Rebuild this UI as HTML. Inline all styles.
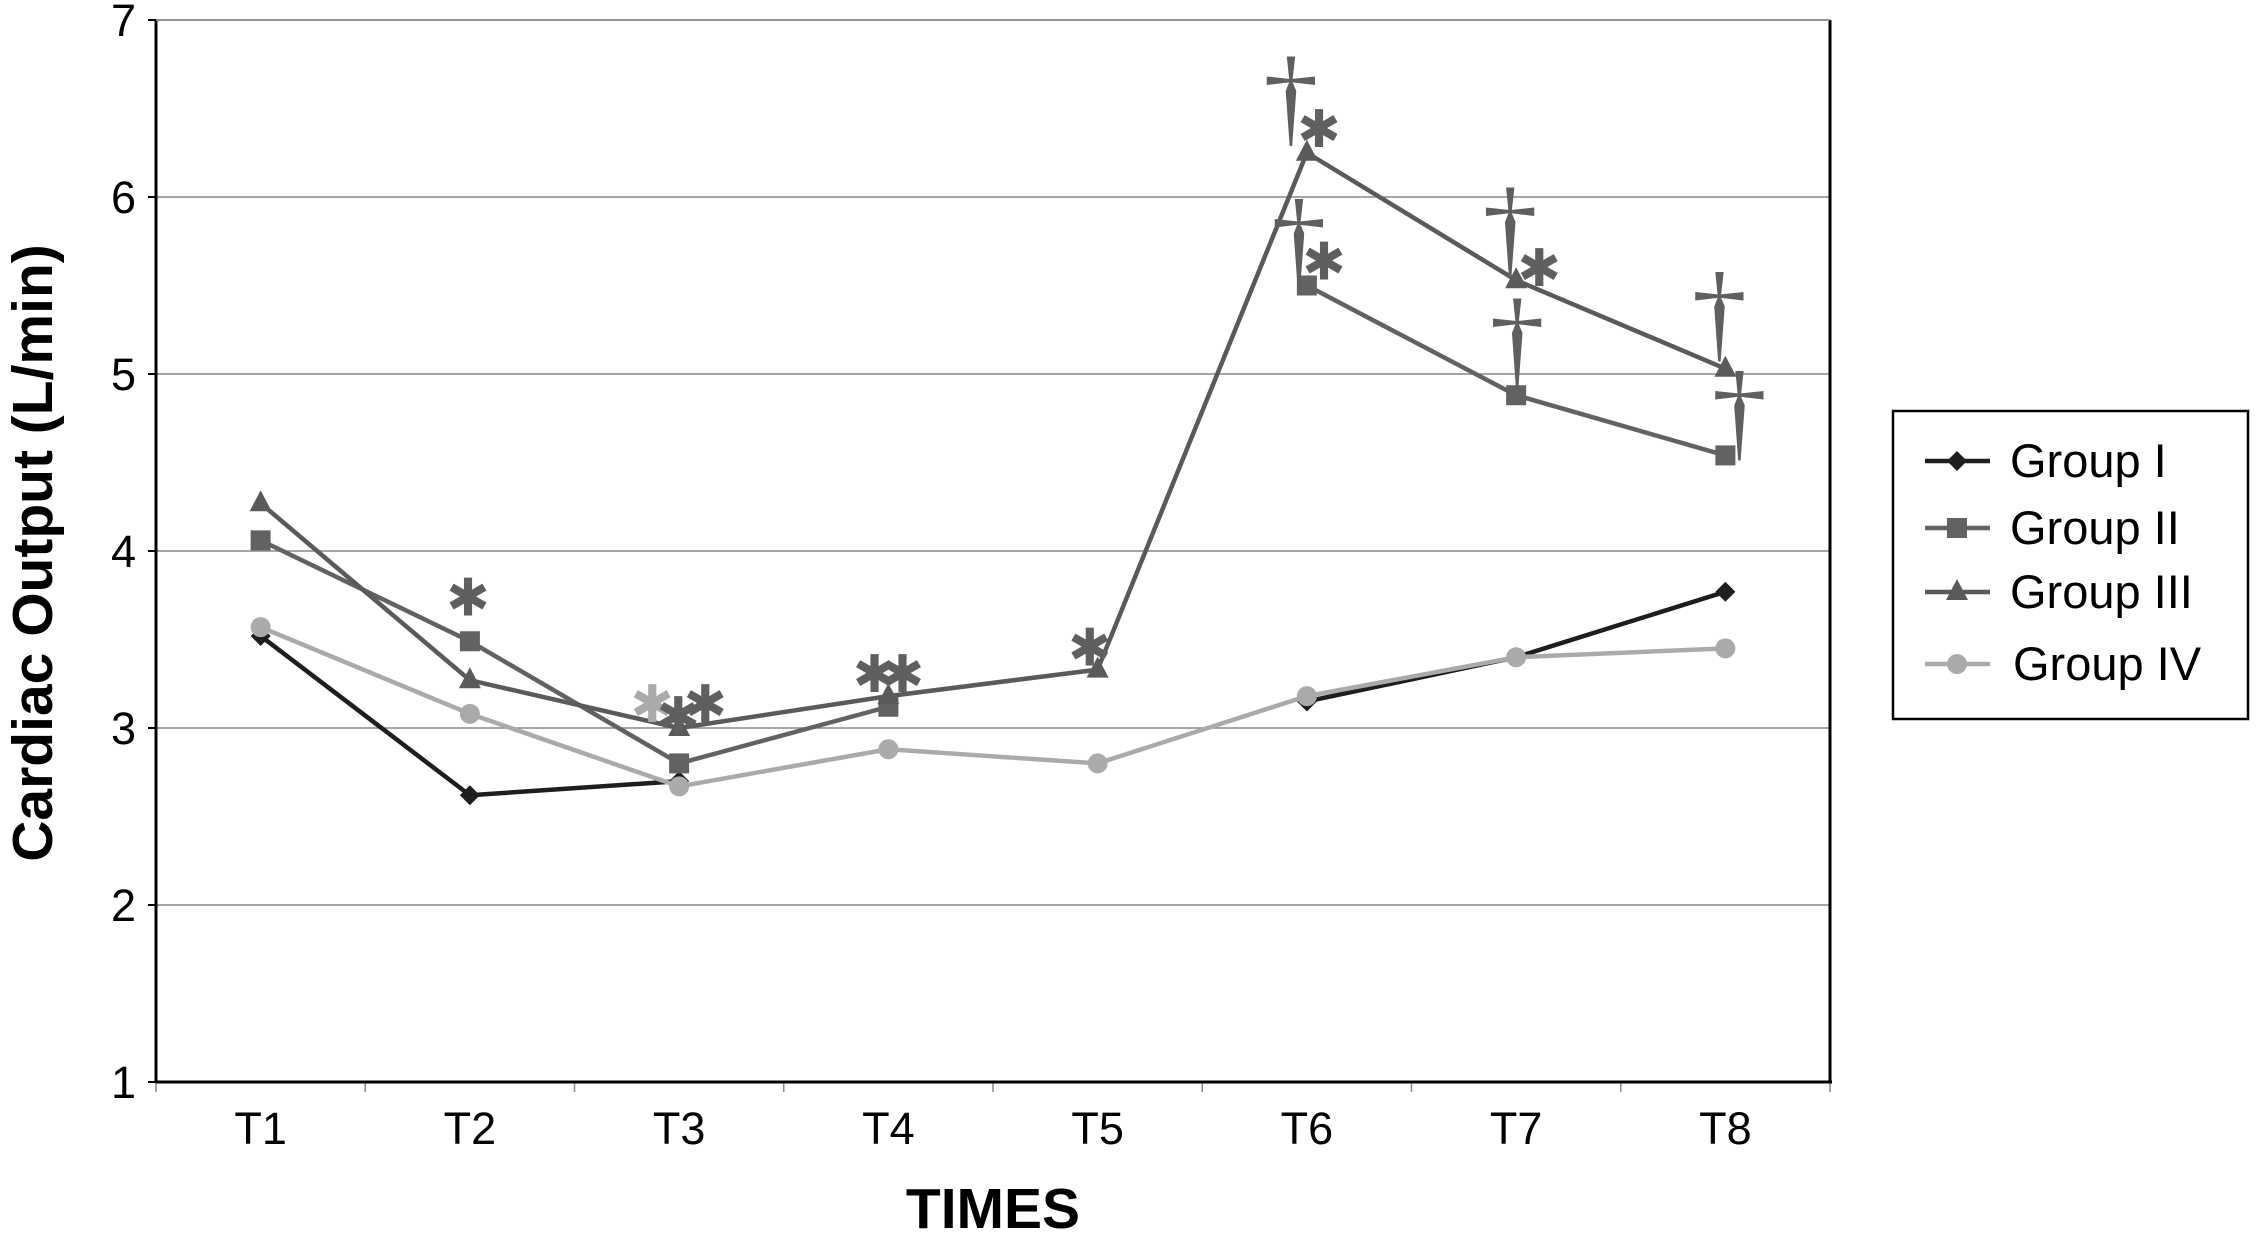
<!DOCTYPE html>
<html><head><meta charset="utf-8"><style>
html,body{margin:0;padding:0;background:#fff;}
svg{display:block;font-family:"Liberation Sans",Arial,sans-serif;}
</style></head><body>
<svg id="chart" width="2256" height="1237" viewBox="0 0 2256 1237" xmlns="http://www.w3.org/2000/svg">
<g id="grid"></g>
<g id="axes"></g>
<g id="series"></g>
<g id="annot"></g>
<text x="0" y="0" transform="translate(52,553) rotate(-90)" text-anchor="middle" font-weight="bold" font-size="57" fill="#000">Cardiac Output (L/min)</text>
<text x="993" y="1228" text-anchor="middle" font-weight="bold" font-size="57" fill="#000">TIMES</text>
<g id="legend"></g>
</svg>
<script>
const categories = ["T1","T2","T3","T4","T5","T6","T7","T8"];
const yTicks = [1,2,3,4,5,6,7];
const groupI   = [3.52,2.62,2.70,null,null,3.15,3.40,3.77];
const groupII  = [4.06,3.49,2.80,3.12,null,5.50,4.88,4.54];
const groupIII = [4.27,3.27,3.00,3.18,3.33,6.25,5.53,5.03];
const groupIV  = [3.57,3.08,2.67,2.88,2.80,3.18,3.40,3.45];
const seriesNames = ["Group I","Group II","Group III","Group IV"];

const NS="http://www.w3.org/2000/svg";
const L=156,R=1830,T=20,B=1082,yMin=1,yMax=7;
const bw=(R-L)/categories.length;
const x=i=>L+bw*(i+0.5);
const y=v=>B-(v-yMin)/(yMax-yMin)*(B-T);
function mk(tag,attrs,parent){const e=document.createElementNS(NS,tag);for(const k in attrs)e.setAttribute(k,attrs[k]);parent.appendChild(e);return e;}
const grid=document.getElementById('grid'),axes=document.getElementById('axes'),ser=document.getElementById('series'),ann=document.getElementById('annot'),leg=document.getElementById('legend');

yTicks.forEach(v=>{
  if(v>yMin){const g=mk('line',{x1:L,x2:R,y1:y(v),y2:y(v),stroke:'#888','stroke-width':1.5},grid);
  
  }
  mk('line',{x1:L-8,x2:L,y1:y(v),y2:y(v),stroke:'#000','stroke-width':2},axes);
  const lb=mk('text',{x:L-20,y:y(v)+16,'text-anchor':'end','font-size':45,fill:'#000'},axes);
  lb.textContent=v;
  
  
});
categories.forEach((c,i)=>{
  mk('line',{x1:L+bw*i,x2:L+bw*i,y1:B,y2:B+10,stroke:'#888','stroke-width':1.5},axes);
  const lb=mk('text',{x:x(i),y:B+62,'text-anchor':'middle','font-size':45,fill:'#000'},axes);
  lb.textContent=c;
  
  
});
mk('line',{x1:R,x2:R,y1:B,y2:B+10,stroke:'#888','stroke-width':1.5},axes);
mk('line',{x1:L,x2:L,y1:T,y2:B+1,stroke:'#000','stroke-width':3},axes);
mk('line',{x1:L,x2:R+2,y1:B,y2:B,stroke:'#000','stroke-width':3},axes);
mk('line',{x1:R,x2:R,y1:T,y2:B,stroke:'#000','stroke-width':3},axes);
mk('line',{x1:L,x2:R,y1:T,y2:T,stroke:'#888','stroke-width':1.5},axes);

function marker(kind,cx,cy,col,parent){
  if(kind==='diamond')return mk('polygon',{points:`${cx},${cy-10} ${cx+10},${cy} ${cx},${cy+10} ${cx-10},${cy}`,fill:col},parent);
  if(kind==='square')return mk('rect',{x:cx-10,y:cy-10,width:20,height:20,fill:col},parent);
  if(kind==='triangle')return mk('polygon',{points:`${cx},${cy-13} ${cx+11},${cy+8} ${cx-11},${cy+8}`,fill:col},parent);
  return mk('circle',{cx:cx,cy:cy,r:10,fill:col},parent);
}
const defs=[[groupI,'#1e1e1e','diamond'],[groupIV,'#aaaaaa','circle'],[groupII,'#626262','square'],[groupIII,'#5a5a5a','triangle']];
defs.forEach(([d,col,kind])=>{
  const g=mk('g',{},ser);
  
  
  for(let i=0;i<d.length-1;i++){
    if(d[i]==null||d[i+1]==null)continue;
    const s=mk('line',{x1:x(i),y1:y(d[i]),x2:x(i+1),y2:y(d[i+1]),stroke:col,'stroke-width':4.5,'stroke-linecap':'round'},g);
    
    
  }
  d.forEach((v,i)=>{if(v==null)return;const m=marker(kind,x(i),y(v),col,g);
    
    });
});

function sym(ch,px,py,col,size,font){
  const t=mk('text',{x:px,y:py,'text-anchor':'middle','font-size':size,fill:col,'font-family':font},ann);
  t.textContent=ch;
  
  
}
const ast='✱', dag='†', dc='#5f5f5f', AF='"DejaVu Sans",sans-serif', DF='"Liberation Serif",serif';
const as=(px,py,c)=>sym(ast,px,py,c||dc,52,AF);
const dg=(px,py)=>sym(dag,px,py,dc,110,DF);
as(x(1)-2,y(groupII[1])-26);
as(x(2)-27,y(groupIII[2])-6,'#aaaaaa');
as(x(2)-1,y(groupIII[2])+6);
as(x(2)+26,y(groupIII[2])-6);
as(x(3)-14,y(groupIII[3])-4);
as(x(3)+14,y(groupIII[3])-4);
as(x(4)-8,y(groupIII[4])-4);
dg(x(5)-16,y(groupIII[5])-20);
as(x(5)+12,y(groupIII[5])-6);
dg(x(5)-8,y(groupII[5])-10);
as(x(5)+17,y(groupII[5])-6);
dg(x(6)-6,y(groupIII[6])-16);
as(x(6)+23,y(groupIII[6])+6);
dg(x(6)+1,y(groupII[6])-20);
dg(x(7)-6,y(groupIII[7])-20);
dg(x(7)+14,y(groupII[7])-8);

const lb=mk('rect',{x:1893,y:411,width:355,height:308,fill:'#fff',stroke:'#000','stroke-width':2.5},leg);


const legDefs=[['#1e1e1e','diamond',461,2010],['#626262','square',528,2010],['#5a5a5a','triangle',592,2010],['#aaaaaa','circle',664,2013]];
legDefs.forEach(([col,kind,ly,tx],i)=>{
  const g=mk('g',{},leg);
  
  
  mk('line',{x1:1925,x2:1990,y1:ly,y2:ly,stroke:col,'stroke-width':4.5},g);
  marker(kind,1957,ly,col,g);
  const t=mk('text',{x:tx,y:ly+16,'font-size':47,fill:'#000'},g);
  t.textContent=seriesNames[i];
});
</script>
</body></html>
